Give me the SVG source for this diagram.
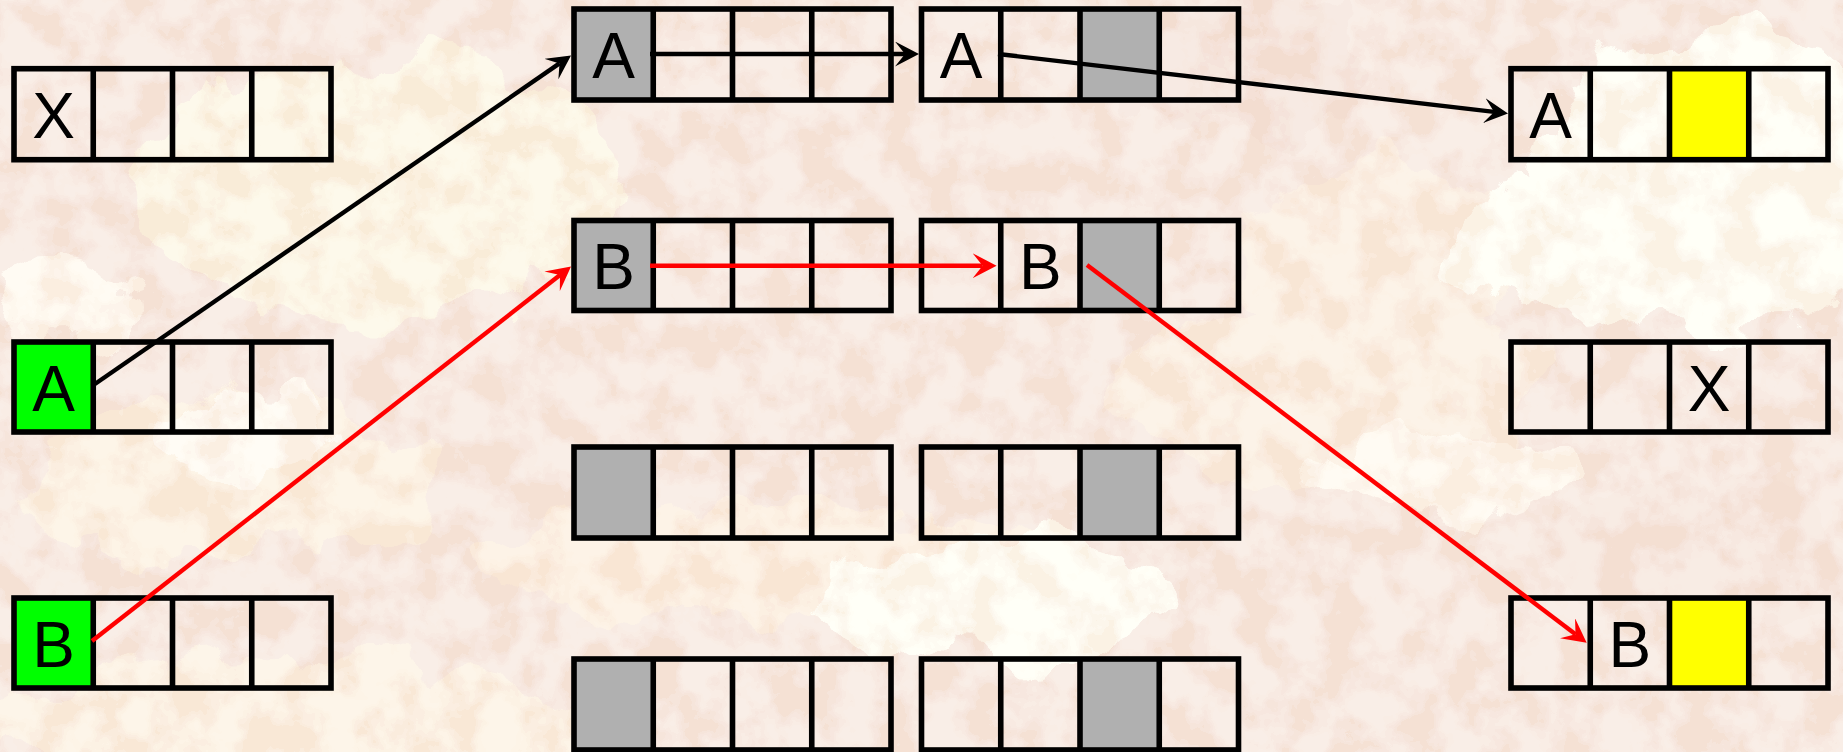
<svg xmlns="http://www.w3.org/2000/svg" width="1843" height="752" viewBox="0 0 1843 752">
<style>
.frame{fill:none;stroke:#000;stroke-width:5.6}
.div{stroke:#000;stroke-width:5.6}
.lbl{font-family:"Liberation Sans",Arial,sans-serif;font-size:64px;text-anchor:middle;fill:#000}
.g{fill:#00ff00}.gr{fill:#b0b0b0}.y{fill:#ffff00}
.conn{fill:none;stroke-width:4.4}
.blk{stroke:#000}.red{stroke:#ff0000}
</style>
<defs>
<marker id="ab" viewBox="0 0 24 25" refX="10" refY="12.5" markerWidth="24" markerHeight="25" markerUnits="userSpaceOnUse" orient="auto"><path d="M0,0 L24,12.5 L0,25 L10,12.5 Z" fill="#000"/></marker>
<marker id="ar" viewBox="0 0 24 25" refX="10" refY="12.5" markerWidth="24" markerHeight="25" markerUnits="userSpaceOnUse" orient="auto"><path d="M0,0 L24,12.5 L0,25 L10,12.5 Z" fill="#ff0000"/></marker>
<filter id="rough" x="-10%" y="-10%" width="120%" height="120%">
<feTurbulence type="fractalNoise" baseFrequency="0.012" numOctaves="4" seed="7" result="t"/>
<feDisplacementMap in="SourceGraphic" in2="t" scale="90" xChannelSelector="R" yChannelSelector="G"/>
</filter>
<filter id="tex" x="0" y="0" width="100%" height="100%">
<feTurbulence type="fractalNoise" baseFrequency="0.025" numOctaves="4" seed="3" result="n"/>
<feColorMatrix in="n" type="matrix" values="3 0 0 0 -1  3 0 0 0 -1  3 0 0 0 -1  0 0 0 0 1"/>
<feComponentTransfer>
<feFuncR type="discrete" tableValues="0.93 0.95 0.96 0.98 1 1"/>
<feFuncG type="discrete" tableValues="0.78 0.84 0.88 0.94 0.98 1"/>
<feFuncB type="discrete" tableValues="0.66 0.76 0.82 0.88 0.93 0.96"/>
<feFuncA type="discrete" tableValues="0.45 0.2 0 0 0.15 0.5"/>
</feComponentTransfer>
</filter>
</defs>

<g id="background">
<rect width="1843" height="752" fill="#f3ddd4"/>
<g filter="url(#rough)">
<ellipse cx="380" cy="190" rx="250" ry="130" fill="#fcf4dc"/>
<ellipse cx="230" cy="480" rx="210" ry="80" fill="#fbebd6"/>
<ellipse cx="760" cy="560" rx="280" ry="60" fill="#fbe8d4"/>
<ellipse cx="300" cy="720" rx="320" ry="60" fill="#fbecd8"/>
<ellipse cx="1330" cy="390" rx="220" ry="90" fill="#fae8d6"/>
<ellipse cx="1390" cy="260" rx="150" ry="90" fill="#fae7d6"/>
<ellipse cx="1000" cy="600" rx="180" ry="60" fill="#fffff4"/>
<ellipse cx="1730" cy="180" rx="200" ry="150" fill="#fffff4"/>
<ellipse cx="1560" cy="250" rx="120" ry="70" fill="#fffff4"/>
<ellipse cx="60" cy="300" rx="70" ry="40" fill="#fff8ec"/>
<ellipse cx="250" cy="440" rx="90" ry="40" fill="#fffaf0"/>
<ellipse cx="1450" cy="470" rx="120" ry="40" fill="#fff8ec"/>
<ellipse cx="1250" cy="60" rx="130" ry="70" fill="#f0d6cc"/>
<ellipse cx="1700" cy="560" rx="160" ry="80" fill="#f1d9cf"/>
</g>
<rect width="1843" height="752" filter="url(#tex)"/>
</g>

<g id="L1" transform="translate(14,68.7)">
<rect class="frame" width="317" height="91"/>
<path class="div" d="M79.25,0V91M158.5,0V91M237.75,0V91"/>
<text class="lbl" x="39.6" y="69">X</text>
</g>
<g id="L2" transform="translate(14,342)">
<rect class="g" width="79.25" height="90"/>
<rect class="frame" width="317" height="90"/>
<path class="div" d="M79.25,0V90M158.5,0V90M237.75,0V90"/>
<text class="lbl" x="39.6" y="68.5">A</text>
</g>
<g id="L3" transform="translate(14,598)">
<rect class="g" width="79.25" height="90"/>
<rect class="frame" width="317" height="90"/>
<path class="div" d="M79.25,0V90M158.5,0V90M237.75,0V90"/>
<text class="lbl" x="39.6" y="68.5">B</text>
</g>

<g id="M1a" transform="translate(574,9)">
<rect class="gr" width="79.25" height="91"/>
<rect class="frame" width="317" height="91"/>
<path class="div" d="M79.25,0V91M158.5,0V91M237.75,0V91"/>
<text class="lbl" x="39.6" y="69">A</text>
</g>
<g id="M1b" transform="translate(921.5,9)">
<rect class="gr" x="158.5" width="79.25" height="91"/>
<rect class="frame" width="317" height="91"/>
<path class="div" d="M79.25,0V91M158.5,0V91M237.75,0V91"/>
<text class="lbl" x="39.6" y="69">A</text>
</g>
<g id="M2a" transform="translate(574,220.5)">
<rect class="gr" width="79.25" height="90"/>
<rect class="frame" width="317" height="90"/>
<path class="div" d="M79.25,0V90M158.5,0V90M237.75,0V90"/>
<text class="lbl" x="39.6" y="68.7">B</text>
</g>
<g id="M2b" transform="translate(921.5,220.5)">
<rect class="gr" x="158.5" width="79.25" height="90"/>
<rect class="frame" width="317" height="90"/>
<path class="div" d="M79.25,0V90M158.5,0V90M237.75,0V90"/>
<text class="lbl" x="118.9" y="68.7">B</text>
</g>
<g id="M3a" transform="translate(574,447)">
<rect class="gr" width="79.25" height="91"/>
<rect class="frame" width="317" height="91"/>
<path class="div" d="M79.25,0V91M158.5,0V91M237.75,0V91"/>
</g>
<g id="M3b" transform="translate(921.5,447)">
<rect class="gr" x="158.5" width="79.25" height="91"/>
<rect class="frame" width="317" height="91"/>
<path class="div" d="M79.25,0V91M158.5,0V91M237.75,0V91"/>
</g>
<g id="M4a" transform="translate(574,659)">
<rect class="gr" width="79.25" height="91"/>
<rect class="frame" width="317" height="91"/>
<path class="div" d="M79.25,0V91M158.5,0V91M237.75,0V91"/>
</g>
<g id="M4b" transform="translate(921.5,659)">
<rect class="gr" x="158.5" width="79.25" height="91"/>
<rect class="frame" width="317" height="91"/>
<path class="div" d="M79.25,0V91M158.5,0V91M237.75,0V91"/>
</g>

<g id="R1" transform="translate(1511,68.7)">
<rect class="y" x="158.5" width="79.25" height="91"/>
<rect class="frame" width="317" height="91"/>
<path class="div" d="M79.25,0V91M158.5,0V91M237.75,0V91"/>
<text class="lbl" x="39.6" y="69">A</text>
</g>
<g id="R2" transform="translate(1511,342)">
<rect class="frame" width="317" height="90"/>
<path class="div" d="M79.25,0V90M158.5,0V90M237.75,0V90"/>
<text class="lbl" x="198.1" y="68.5">X</text>
</g>
<g id="R3" transform="translate(1511,598)">
<rect class="y" x="158.5" width="79.25" height="90"/>
<rect class="frame" width="317" height="90"/>
<path class="div" d="M79.25,0V90M158.5,0V90M237.75,0V90"/>
<text class="lbl" x="118.9" y="68.5">B</text>
</g>

<g id="connectors">
<path class="conn blk" d="M92,386 L559.5,63.4" marker-end="url(#ab)"/>
<path class="conn blk" d="M650,54 L905,54" marker-end="url(#ab)"/>
<path class="conn blk" d="M998,54 L1494.1,111.9" marker-end="url(#ab)"/>
<path class="conn red" d="M92,641 L560,275.1" marker-end="url(#ar)"/>
<path class="conn red" d="M650,265.7 L982.6,265.7" marker-end="url(#ar)"/>
<path class="conn red" d="M1087,265 L1575.5,634.3" marker-end="url(#ar)"/>
</g>
</svg>
